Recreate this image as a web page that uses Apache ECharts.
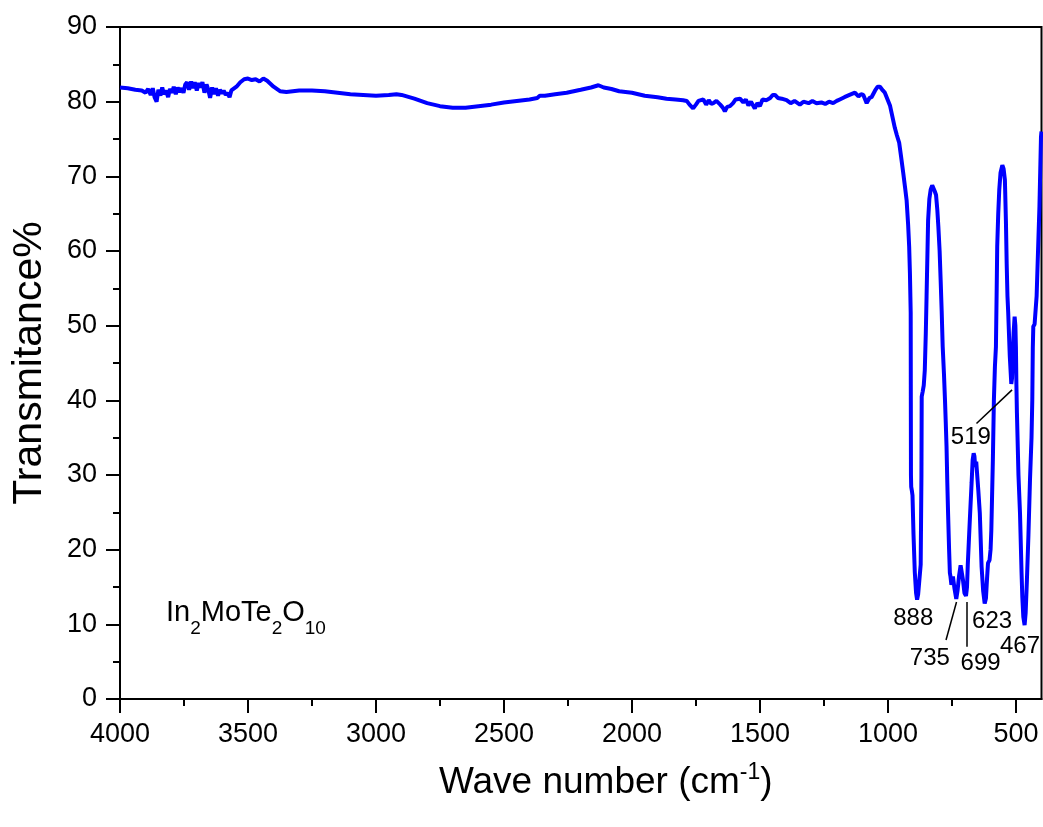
<!DOCTYPE html>
<html>
<head>
<meta charset="utf-8">
<script src="https://cdn.jsdelivr.net/npm/echarts@6/dist/echarts.min.js"></script>
<style>
html,body{margin:0;padding:0;background:#fff;}
#chart{width:1043px;height:827px;}
</style>
</head>
<body>
<div id="chart"></div>
<script>
// ---- data ----
const waveNumbers = [
4000,3970,3940,3915,3900,3890,3880,3872,3865,3857,3850,3842,3835,3828,3820,3812,3805,3797,3790,3782,3775,3768,3760,3752,3745,3738,3730,3722,3715,3708,3700,3692,3685,3678,3670,3662,3655,3648,3640,3632,3625,3617,3610,3602,3595,3587,3580,3572,3565,3559,3545,3530,3515,3500,3485,3470,3455,3440,3425,3400,3375,3350,3300,3250,3200,3150,3100,3050,3000,2950,2920,2900,2850,2800,2750,2700,2650,2600,2550,2500,2450,2400,2370,2360,2340,2300,2255,2200,2160,2131,2110,2080,2050,2000,1950,1900,1865,1830,1800,1786,1775,1761,1750,1740,1721,1710,1700,1690,1682,1670,1655,1645,1637,1628,1617,1605,1595,1578,1565,1555,1545,1535,1520,1510,1500,1490,1474,1460,1450,1441,1430,1415,1396,1380,1365,1344,1330,1310,1295,1279,1260,1245,1230,1214,1200,1188,1170,1150,1129,1115,1105,1096,1083,1072,1064,1050,1040,1031,1020,1012,1005,992,986,973,965,956,948,940,933,927,921,917,914,911,910.5,910,909,906,904,900,895,890,886,882,877,872,869,868,864,860,856,852,849,846,843,838,833,827,822,817,812,807,803,798,794,790,786,781,777,774,771,768,765,761,758,756,752,746,740,733,728,722,716,712,707,701,695,691,688,684,680,673,669,665,662,659,655,651,647,641,634,628,622,617,613,609,603,599,596,590,586,582,578,575,573,569,565,560,553,548,543,539,536,533,530,524,518,515,512,509,505,502,500,498,496,490,484,478,475,471,466,462,457,451,445,439,436,434,432,427,423,419,413,408,402,400
];
const transmittance = [
81.9,81.8,81.6,81.5,81.2,81.7,80.9,81.8,80.6,80.0,81.6,80.8,81.9,81.0,81.5,80.6,81.7,81.2,82.0,81.0,81.9,81.3,81.8,81.2,82.3,82.6,81.6,82.7,81.8,82.6,81.5,82.5,81.9,82.6,81.2,82.3,81.6,80.5,81.9,81.0,81.8,80.8,81.6,81.1,81.5,80.9,81.2,80.6,81.5,81.4,82.0,82.6,83.0,83.1,82.9,83.0,82.7,83.1,82.8,82.0,81.4,81.3,81.5,81.5,81.4,81.2,81.0,80.9,80.8,80.9,81.0,80.9,80.4,79.8,79.4,79.2,79.2,79.4,79.6,79.9,80.1,80.3,80.5,80.8,80.8,81.0,81.2,81.6,81.9,82.2,81.9,81.7,81.4,81.2,80.8,80.6,80.4,80.3,80.2,80.1,79.6,79.1,79.6,80.1,80.3,79.6,80.2,79.7,79.8,80.1,79.6,79.2,78.7,79.3,79.4,79.8,80.3,80.4,79.9,80.3,79.5,80.0,79.1,79.8,79.4,80.3,80.2,80.5,80.9,80.9,80.5,80.4,80.2,79.8,80.1,79.6,80.0,79.8,80.1,79.8,79.9,79.7,80.0,79.8,80.1,80.3,80.6,80.9,81.2,80.7,81.0,80.9,79.8,80.5,80.6,81.5,82.0,82.0,81.5,81.2,81.1,79.5,79.3,76.5,75.5,74.5,72.5,70.4,68.5,66.8,63.5,60.6,57,51.7,40,30,28.4,27.8,27.3,22,17,14.2,13.3,14,16,18,30,40.5,41.2,42,44,49,53.9,59,64.1,67,68.2,68.8,68.6,68.0,67.5,65.5,63.3,60,56.1,52,47.2,43.5,40,37,33.8,29,24.9,20,16.9,16.5,15.3,16.4,14.8,13.4,14.5,16.5,17.9,17.8,16,14.2,13.8,15,18,21,24,29,32,32.9,32.5,31.1,31.8,31.7,28,24.9,17.7,14.5,12.8,13.5,16,18.2,18.6,20,22.6,32,40,44.5,47.2,55,60.6,65,68.2,70.5,71.5,71,69.5,64,58.3,54,51.7,46,42.2,43,46,49,51.2,50,47.2,42,38.3,30,24.9,17,13.7,11,9.9,11.5,15.9,22,29.3,35,40,47,49.9,50.2,50.4,54,60.6,66,75.3,76
];
const xMajorTicks = [4000,3500,3000,2500,2000,1500,1000,500];
const xMinorTicks = [3750,3250,2750,2250,1750,1250,750];
const peakLabels = ['888','735','699','623','519','467'];
const peakLabelX = [901,836,638,593,676,484];
const peakLabelY = [10.8,5.5,4.8,10.4,35.1,7.0];
const leaderFrom = [[654,36.9],[773,7.9],[693,7.0]];
const leaderTo = [[515,41.4],[732,13.0],[693,13.0]];
const compoundName = '{m|In}{s|2}{m|MoTe}{s|2}{m|O}{s|10}';
const xTitle = '{m|Wave number (cm}{p|-1}{m|)}';
const yTitle = 'Transmitance%';

// ---- build ----
const FONT = "'Liberation Sans', Arial, sans-serif";
const lineData = waveNumbers.map((w, i) => [w, transmittance[i]]);
const labelData = peakLabels.map((t, i) => ({name: t, value: [peakLabelX[i], peakLabelY[i]]}));
const leaderData = leaderFrom.map((f, i) => [{coord: f}, {coord: leaderTo[i]}]);

const chart = echarts.init(document.getElementById('chart'), null, {renderer: 'canvas'});
chart.setOption({
  animation: false,
  backgroundColor: '#fff',
  grid: {left: 120, right: 1.5, top: 27, bottom: 128, show: true, borderColor: '#000', borderWidth: 2, containLabel: false},
  xAxis: [{
    type: 'value', min: 400, max: 4000, inverse: true,
    axisLine: {show: true, lineStyle: {color: '#000', width: 2}},
    axisTick: {show: true, inside: false, length: 14, lineStyle: {color: '#000', width: 2}, customValues: xMajorTicks},
    axisLabel: {show: true, customValues: xMajorTicks, formatter: v => String(v), color: '#000', fontSize: 27, fontFamily: FONT, margin: 22},
    splitLine: {show: false},
    name: xTitle, nameLocation: 'middle', nameGap: 62,
    nameTextStyle: {padding: [0, 0, 0, 50], rich: {
      m: {fontSize: 37, fontFamily: FONT, color: '#000', lineHeight: 44},
      p: {fontSize: 23, fontFamily: FONT, color: '#000', verticalAlign: 'top', lineHeight: 23}
    }}
  }, {
    type: 'value', min: 400, max: 4000, inverse: true, position: 'bottom',
    axisLine: {show: false},
    axisTick: {show: true, inside: false, length: 7, lineStyle: {color: '#000', width: 2}, customValues: xMinorTicks},
    axisLabel: {show: false},
    splitLine: {show: false}
  }],
  yAxis: {
    type: 'value', min: 0, max: 90, interval: 10,
    axisLine: {show: true, lineStyle: {color: '#000', width: 2}},
    axisTick: {show: true, inside: false, length: 14, lineStyle: {color: '#000', width: 2}},
    minorTick: {show: true, splitNumber: 2, length: 7, lineStyle: {color: '#000', width: 2}},
    axisLabel: {color: '#000', fontSize: 27, fontFamily: FONT, margin: 23},
    splitLine: {show: false},
    name: yTitle, nameLocation: 'middle', nameGap: 70, nameRotate: 90,
    nameTextStyle: {fontSize: 41, fontFamily: FONT, color: '#000'}
  },
  graphic: [{
    type: 'text', left: 166, top: 598,
    style: {text: compoundName, rich: {
      m: {fontSize: 29, fontFamily: FONT, fill: '#000', lineHeight: 51},
      s: {fontSize: 19, fontFamily: FONT, fill: '#000', verticalAlign: 'bottom'}
    }}
  }],
  series: [{
    type: 'line', xAxisIndex: 0, data: lineData, showSymbol: false, smooth: false,
    lineStyle: {color: '#0000ff', width: 4}, itemStyle: {color: '#0000ff'},
    markLine: {silent: true, symbol: ['none', 'none'], label: {show: false},
      lineStyle: {color: '#000', width: 1.5, type: 'solid'}, data: leaderData}
  }, {
    type: 'scatter', xAxisIndex: 0, data: labelData, symbolSize: 0, silent: true,
    itemStyle: {color: '#000', opacity: 1},
    label: {show: true, position: 'inside', formatter: '{b}', color: '#000', opacity: 1,
      textBorderWidth: 0, textBorderColor: 'transparent', fontSize: 24, fontFamily: FONT}
  }]
});
</script>
</body>
</html>
